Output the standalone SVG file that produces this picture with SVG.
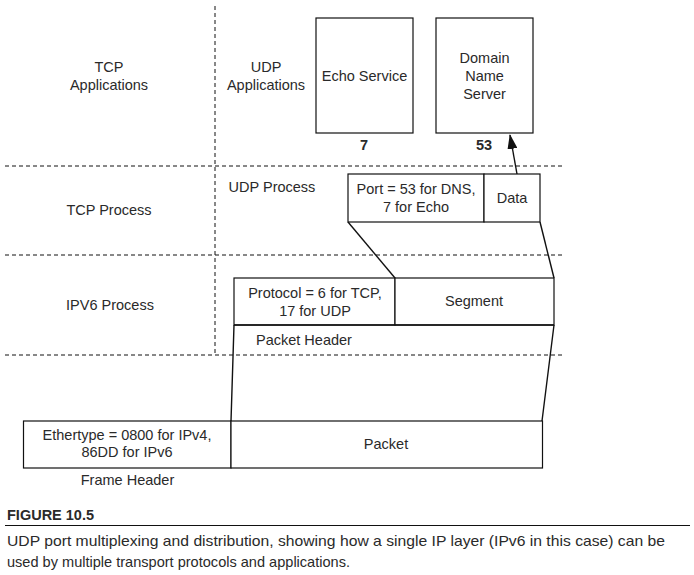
<svg xmlns="http://www.w3.org/2000/svg" width="694" height="575" viewBox="0 0 694 575">
<style>
text{font-family:"Liberation Sans",Arial,sans-serif;font-size:14.5px;fill:#2a2a2a;text-anchor:middle}
.b{font-weight:bold}
.l{text-anchor:start}
.box{fill:#fff;stroke:#111;stroke-width:1.2}
.dash{stroke:#111;stroke-width:1;stroke-dasharray:4 3;fill:none}
.ln{stroke:#111;stroke-width:1.4;fill:none}
</style>
<defs>
<marker id="ah" markerWidth="15" markerHeight="10" refX="14" refY="5" orient="auto" markerUnits="userSpaceOnUse">
<path d="M0,0 L15,5 L0,10 z" fill="#111"/>
</marker>
</defs>
<rect width="694" height="575" fill="#fff"/>
<g id="layers">
<line class="dash" x1="215" y1="6" x2="215" y2="355"/>
<line class="dash" x1="5" y1="166" x2="564" y2="166"/>
<line class="dash" x1="5" y1="255" x2="564" y2="255"/>
<line class="dash" x1="5" y1="355" x2="564" y2="355"/>
<text x="109" y="72">TCP</text>
<text x="109" y="90">Applications</text>
<text x="266" y="72">UDP</text>
<text x="266" y="90">Applications</text>
<text x="272" y="192">UDP Process</text>
<text x="109" y="215">TCP Process</text>
<text x="110" y="310">IPV6 Process</text>
</g>
<g id="connectors">
<line class="ln" x1="348" y1="222" x2="395" y2="278"/>
<line class="ln" x1="540" y1="222" x2="554" y2="278"/>
<line class="ln" x1="234" y1="325" x2="231" y2="421"/>
<line class="ln" x1="554" y1="325" x2="542" y2="421"/>
<line class="ln" x1="517" y1="174" x2="510" y2="135" marker-end="url(#ah)"/>
</g>
<g id="echo">
<rect class="box" x="316" y="18" width="97" height="115"/>
<text x="364.5" y="81">Echo Service</text>
<text class="b" x="364" y="150">7</text>
</g>
<g id="dns">
<rect class="box" x="436" y="18" width="97" height="115"/>
<text x="484.5" y="63">Domain</text>
<text x="484.5" y="81">Name</text>
<text x="484.5" y="99">Server</text>
<text class="b" x="484" y="150">53</text>
</g>
<g id="udp-segment">
<rect class="box" x="348" y="174" width="136" height="48"/>
<rect class="box" x="484" y="174" width="56" height="48"/>
<text x="416" y="194">Port = 53 for DNS,</text>
<text x="416" y="212">7 for Echo</text>
<text x="512" y="203">Data</text>
</g>
<g id="ip-packet">
<rect class="box" x="234" y="278" width="161" height="47"/>
<rect class="box" x="395" y="278" width="159" height="47"/>
<line class="ln" x1="234" y1="325" x2="554" y2="325"/>
<text x="315" y="298">Protocol = 6 for TCP,</text>
<text x="315" y="316">17 for UDP</text>
<text x="474" y="306">Segment</text>
<text class="l" x="256" y="345">Packet Header</text>
</g>
<g id="frame">
<rect class="box" x="23.5" y="421" width="207.5" height="47"/>
<rect class="box" x="231" y="421" width="311.5" height="47"/>
<text x="127" y="440">Ethertype = 0800 for IPv4,</text>
<text x="127" y="457">86DD for IPv6</text>
<text x="386" y="449">Packet</text>
<text x="127.5" y="485">Frame Header</text>
</g>
<g id="caption">
<text class="l b" x="7" y="520" font-size="14.5">FIGURE 10.5</text>
<line x1="5" y1="525.5" x2="690" y2="525.5" stroke="#111" stroke-width="1.2"/>
<text class="l" x="7" y="546" textLength="658" lengthAdjust="spacingAndGlyphs" font-size="15">UDP port multiplexing and distribution, showing how a single IP layer (IPv6 in this case) can be</text>
<text class="l" x="7" y="567" textLength="343" lengthAdjust="spacingAndGlyphs" font-size="15">used by multiple transport protocols and applications.</text>
</g>
</svg>
